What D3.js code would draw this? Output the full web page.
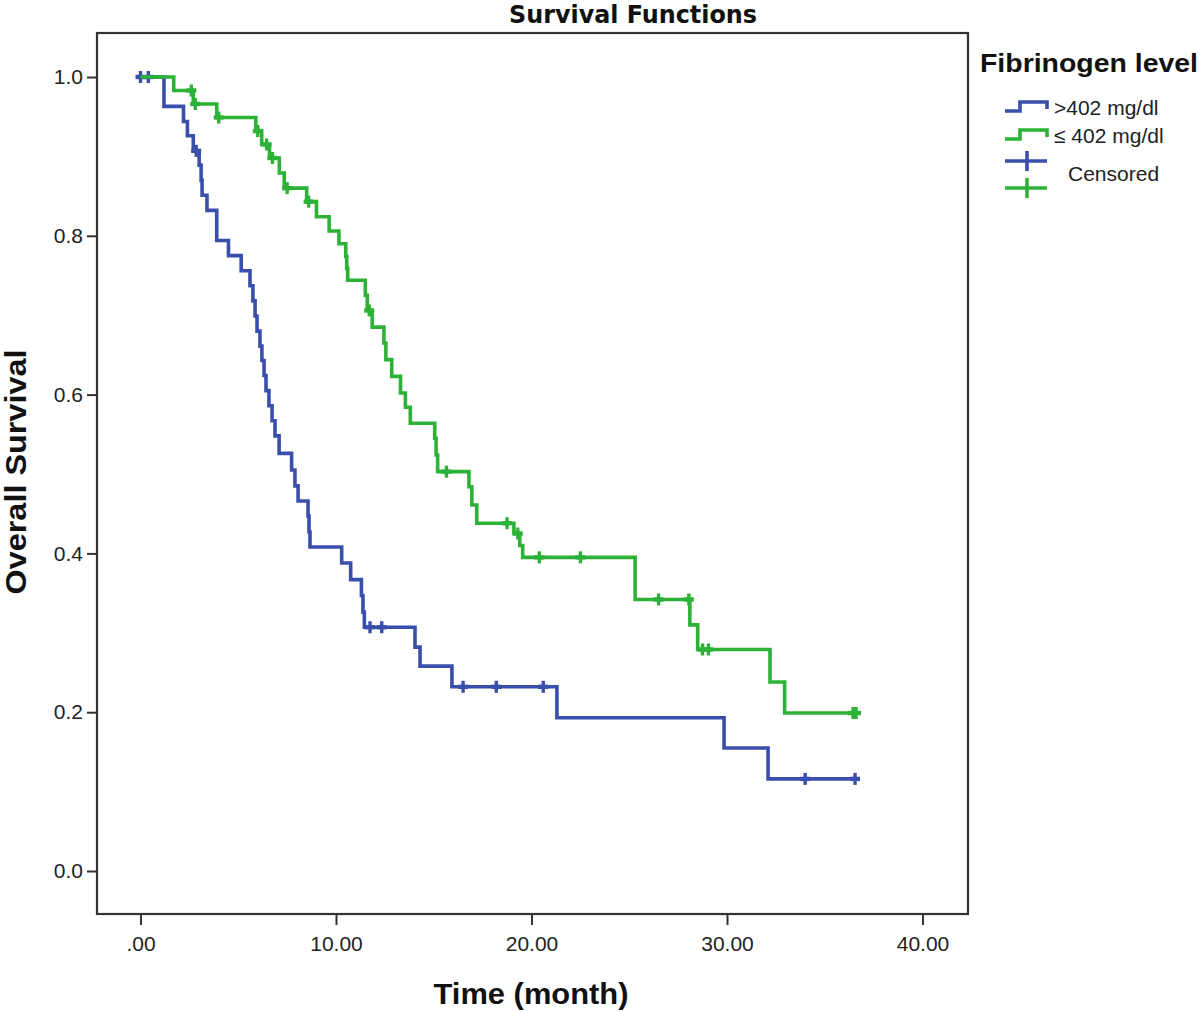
<!DOCTYPE html>
<html>
<head>
<meta charset="utf-8">
<script src="https://cdn.jsdelivr.net/npm/d3@7/dist/d3.min.js"></script>
<style>
  html, body { margin: 0; padding: 0; background: #fff; }
  svg { display: block; }
</style>
</head>
<body>
<svg id="chart" width="1200" height="1012"></svg>
<script>
// ---------------- DATA ----------------
const chartTitle = "Survival Functions";
const xAxisTitle = "Time (month)";
const yAxisTitle = "Overall Survival";
const legendTitle = "Fibrinogen level";
const seriesNames = [">402 mg/dl", "\u2264 402 mg/dl"];
const censoredLabel = "Censored";

const xTickValues = [0, 10, 20, 30, 40];
const xTickLabels = [".00", "10.00", "20.00", "30.00", "40.00"];
const yTickValues = [0, 0.2, 0.4, 0.6, 0.8, 1.0];
const yTickLabels = ["0.0", "0.2", "0.4", "0.6", "0.8", "1.0"];

// > 402 mg/dl (blue)
const highEventTimes = [1.2, 2.2, 2.4, 2.7, 3.0, 3.1, 3.15, 3.4, 3.9, 4.5, 5.15, 5.6,
  5.75, 5.86, 5.96, 6.11, 6.21, 6.32, 6.42, 6.57, 6.73, 6.88, 7.09,
  7.73, 7.9, 8.06, 8.57, 8.62, 8.67, 10.29, 10.75, 11.3, 11.38, 11.45,
  14.04, 14.3, 15.93, 21.3, 29.85, 32.1];
const highSurvival = [0.963, 0.944, 0.926, 0.907, 0.889, 0.870, 0.851, 0.832, 0.794, 0.775, 0.756, 0.737,
  0.718, 0.699, 0.680, 0.661, 0.643, 0.624, 0.605, 0.586, 0.567, 0.548, 0.526,
  0.505, 0.485, 0.466, 0.447, 0.427, 0.408, 0.388, 0.367, 0.347, 0.326, 0.307,
  0.282, 0.258, 0.232, 0.193, 0.155, 0.116];
const highCensorTimes = [0.0, 0.4, 2.85, 11.74, 12.34, 16.5, 18.2, 20.6, 34.0, 36.55];
const highEndTime = 36.55;

// <= 402 mg/dl (green)
const lowEventTimes = [1.7, 2.7, 3.9, 5.9, 6.2, 6.6, 7.1, 7.35, 8.5, 9.0, 9.65, 10.15,
  10.5, 10.55, 10.6, 11.5, 11.6, 11.85, 12.45, 12.55, 12.85, 13.3, 13.55, 13.8,
  15.05, 15.12, 15.2, 16.8, 16.95, 17.2, 19.1, 19.4, 19.55, 25.3, 28.1, 28.5, 32.2, 32.95];
const lowSurvival = [0.983, 0.966, 0.949, 0.932, 0.915, 0.898, 0.879, 0.860, 0.843, 0.824, 0.806, 0.790,
  0.774, 0.759, 0.744, 0.725, 0.706, 0.685, 0.665, 0.644, 0.623, 0.602, 0.584, 0.564,
  0.545, 0.524, 0.503, 0.484, 0.461, 0.438, 0.425, 0.410, 0.395, 0.342, 0.310, 0.279, 0.238, 0.199];
const lowCensorTimes = [2.6, 2.8, 4.0, 6.0, 6.45, 6.75, 7.5, 8.6, 11.7, 15.65, 18.75, 19.3,
  20.4, 22.5, 26.5, 28.05, 28.75, 29.05, 36.45, 36.6];
const lowEndTime = 36.6;

const seriesColors = ["#3a4eac", "#2db238"];

// ---------------- CHART ----------------
const svg = d3.select("#chart");
const frame = { left: 97, top: 33, right: 968, bottom: 914 };

const x = d3.scaleLinear().domain([0, 40]).range([140.5, 922.5]);
const y = d3.scaleLinear().domain([0, 1]).range([871, 77]);

function survAt(times, surv, t) {
  let s = 1;
  for (let i = 0; i < times.length; i++) if (times[i] <= t) s = surv[i];
  return s;
}

function stepPoints(times, surv, endTime) {
  const pts = [[0, 1]];
  times.forEach((t, i) => pts.push([t, surv[i]]));
  pts.push([endTime, surv[surv.length - 1]]);
  return pts;
}

const series = [
  { times: highEventTimes, surv: highSurvival, censor: highCensorTimes, end: highEndTime, color: seriesColors[0] },
  { times: lowEventTimes, surv: lowSurvival, censor: lowCensorTimes, end: lowEndTime, color: seriesColors[1] }
];

// frame
svg.append("rect")
  .attr("x", frame.left).attr("y", frame.top)
  .attr("width", frame.right - frame.left).attr("height", frame.bottom - frame.top)
  .attr("fill", "none").attr("stroke", "#333").attr("stroke-width", 2.2);

// axes
const xAxis = d3.axisBottom(x).tickValues(xTickValues)
  .tickFormat((d, i) => xTickLabels[i]).tickSize(11).tickSizeOuter(0);
const gx = svg.append("g").attr("transform", `translate(0,${frame.bottom})`).call(xAxis);
gx.select(".domain").remove();
gx.selectAll(".tick line").attr("stroke", "#333").attr("stroke-width", 2);
gx.selectAll(".tick text").attr("font-family", "Liberation Sans, Arial, sans-serif")
  .attr("font-size", 21).attr("fill", "#222").attr("dy", "1.1em");

const yAxis = d3.axisLeft(y).tickValues(yTickValues)
  .tickFormat((d, i) => yTickLabels[i]).tickSize(10).tickSizeOuter(0);
const gy = svg.append("g").attr("transform", `translate(${frame.left},0)`).call(yAxis);
gy.select(".domain").remove();
gy.selectAll(".tick line").attr("stroke", "#333").attr("stroke-width", 2);
gy.selectAll(".tick text").attr("font-family", "Liberation Sans, Arial, sans-serif")
  .attr("font-size", 21).attr("fill", "#222").attr("x", -14);

// curves
const line = d3.line().x(d => x(d[0])).y(d => y(d[1])).curve(d3.curveStepAfter);
series.forEach(s => {
  svg.append("path")
    .datum(stepPoints(s.times, s.surv, s.end))
    .attr("d", line)
    .attr("fill", "none")
    .attr("stroke", s.color)
    .attr("stroke-width", 3.6)
    .attr("stroke-linejoin", "miter");
  const g = svg.append("g");
  s.censor.forEach(t => {
    const cx = x(t), cy = y(survAt(s.times, s.surv, t));
    g.append("line").attr("x1", cx).attr("x2", cx).attr("y1", cy - 6).attr("y2", cy + 6)
      .attr("stroke", s.color).attr("stroke-width", 3.4);
    g.append("line").attr("x1", cx - 5).attr("x2", cx + 5).attr("y1", cy).attr("y2", cy)
      .attr("stroke", s.color).attr("stroke-width", 4.4);
  });
});

// titles
svg.append("text").text(chartTitle)
  .attr("x", 633).attr("y", 23).attr("text-anchor", "middle")
  .attr("font-family", "Liberation Sans Narrow, DejaVu Sans Condensed, Liberation Sans, sans-serif")
  .attr("font-weight", "bold").attr("font-size", 24)
  .attr("textLength", 248).attr("lengthAdjust", "spacingAndGlyphs").attr("fill", "#111");

svg.append("text").text(xAxisTitle)
  .attr("x", 531).attr("y", 1004).attr("text-anchor", "middle")
  .attr("font-family", "Liberation Sans, Arial, sans-serif")
  .attr("font-weight", "bold").attr("font-size", 29)
  .attr("textLength", 195).attr("lengthAdjust", "spacingAndGlyphs").attr("fill", "#111");

svg.append("text").text(yAxisTitle)
  .attr("transform", "translate(26,472) rotate(-90)").attr("text-anchor", "middle")
  .attr("font-family", "Liberation Sans, Arial, sans-serif")
  .attr("font-weight", "bold").attr("font-size", 29)
  .attr("textLength", 245).attr("lengthAdjust", "spacingAndGlyphs").attr("fill", "#111");

// legend
const lg = svg.append("g");
lg.append("text").text(legendTitle)
  .attr("x", 980).attr("y", 72)
  .attr("font-family", "Liberation Sans, Arial, sans-serif")
  .attr("font-weight", "bold").attr("font-size", 26)
  .attr("textLength", 218).attr("lengthAdjust", "spacingAndGlyphs").attr("fill", "#111");

const legendRowsY = [111, 139];
seriesNames.forEach((name, i) => {
  const by = legendRowsY[i];
  const iconPts = [[1005, by], [1020, by], [1020, by - 9], [1047, by - 9], [1047, by - 2]];
  lg.append("path").attr("d", d3.line()(iconPts))
    .attr("fill", "none").attr("stroke", seriesColors[i]).attr("stroke-width", 3.6);
  lg.append("text").text(name)
    .attr("x", 1054).attr("y", by + 4)
    .attr("font-family", "Liberation Sans, Arial, sans-serif")
    .attr("font-size", 21).attr("fill", "#222");
});
const censorIconY = [161, 188];
censorIconY.forEach((cy, i) => {
  lg.append("line").attr("x1", 1005).attr("x2", 1047).attr("y1", cy).attr("y2", cy)
    .attr("stroke", seriesColors[i]).attr("stroke-width", 3.6);
  lg.append("line").attr("x1", 1027).attr("x2", 1027).attr("y1", cy - 10).attr("y2", cy + 10)
    .attr("stroke", seriesColors[i]).attr("stroke-width", 3.6);
});
lg.append("text").text(censoredLabel)
  .attr("x", 1068).attr("y", 181)
  .attr("font-family", "Liberation Sans, Arial, sans-serif")
  .attr("font-size", 21).attr("fill", "#222");
</script>
</body>
</html>
